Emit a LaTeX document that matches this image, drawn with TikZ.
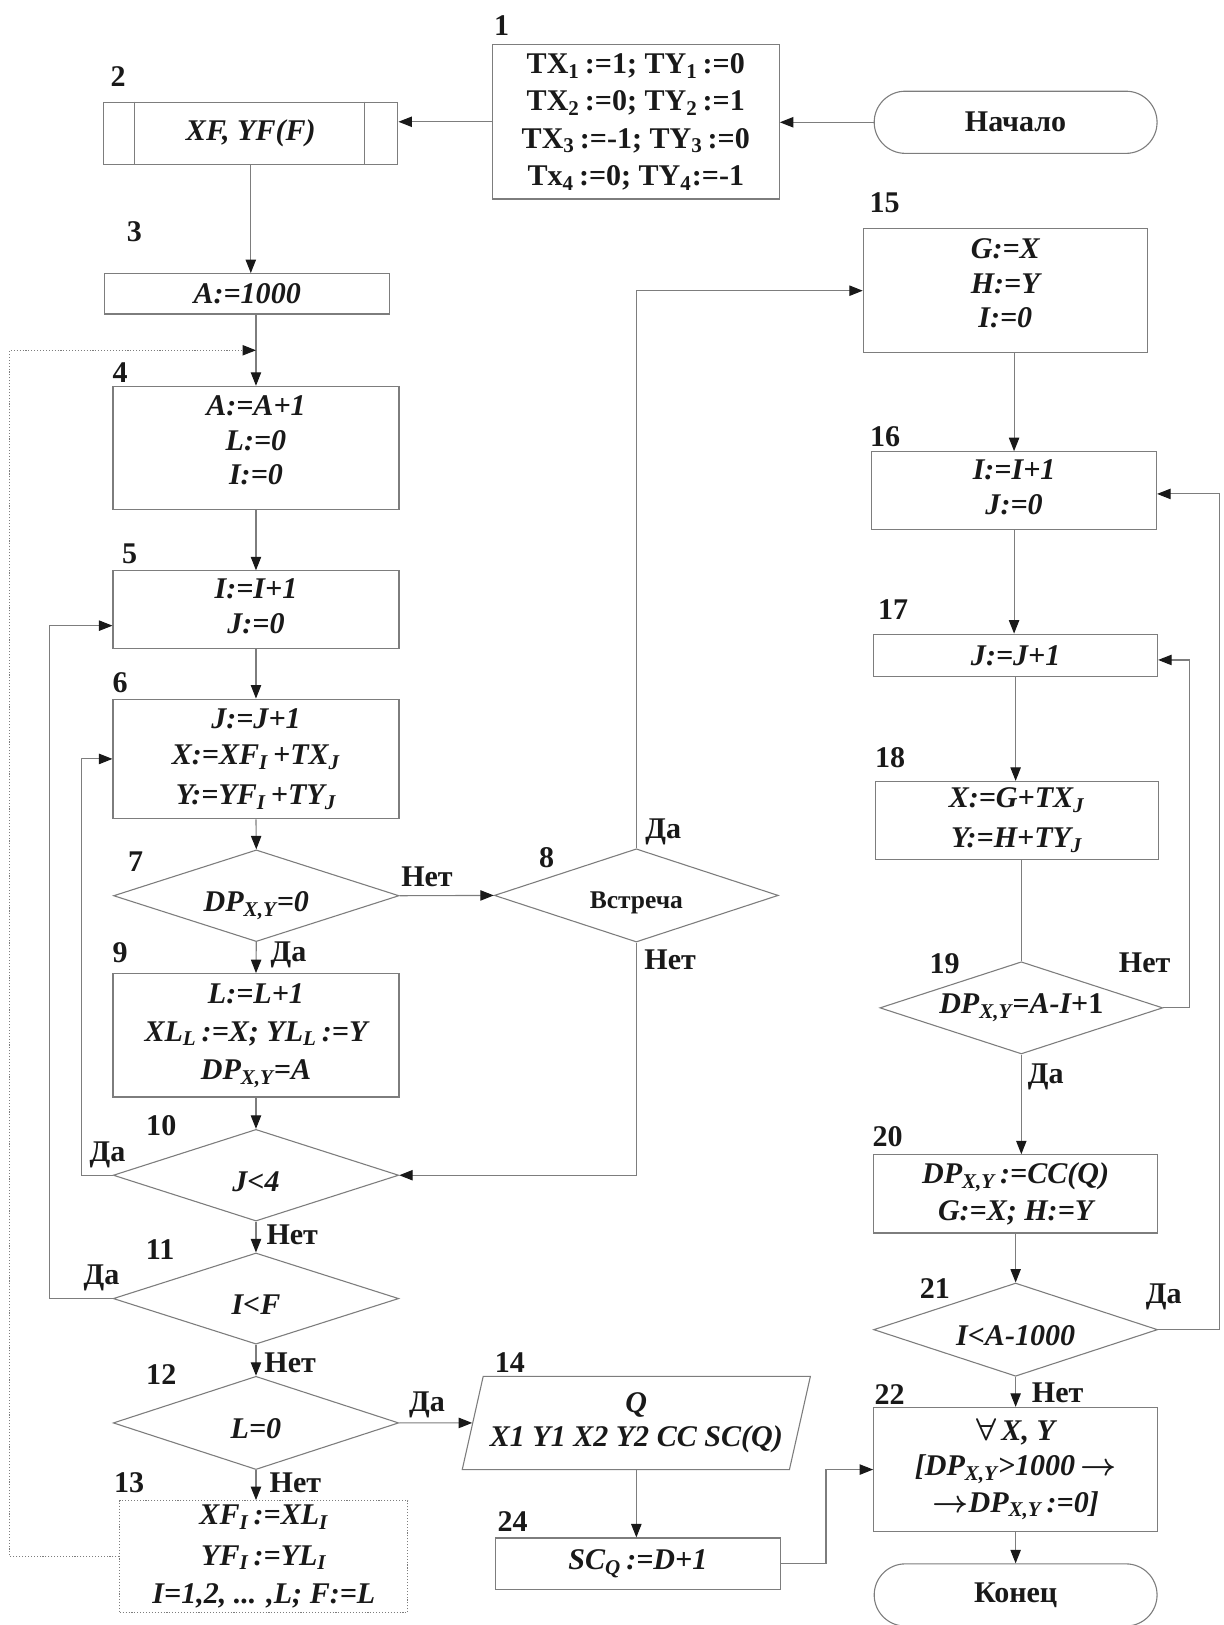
\documentclass[tikz,border=0pt]{standalone}
\usepackage{fontspec}
\setmainfont{Liberation Serif}
\usetikzlibrary{
  shapes.geometric,
  arrows.meta,
  calc
}
\definecolor{linecolor}{RGB}{125, 125, 125}
\definecolor{labelcolor}{RGB}{25, 25, 25}
\definecolor{tipcolor}{RGB}{25, 25, 25}
\newcommand{\dpxy}{DP\textsubscript{X,Y}}
\newcommand{\mainsize}{\fontsize{16.5}{19}\selectfont\bfseries\boldmath}
\tikzset{
blocktext/.style={
  align=center,
  font=\mainsize\itshape,
  text=labelcolor
},
procbox/.style={
  rectangle,
  draw=linecolor,
  line width=0.6pt,
  inner sep=0pt,
  blocktext
},
dottedbox/.style={
  procbox,
  densely dotted
},
decision/.style={
  diamond,
  aspect=3.1,
  draw=linecolor,
  line width=0.6pt,
  inner sep=0pt,
  minimum width=5.5cm,
  minimum height=1.78cm,
  blocktext
},
lowtext/.style={
  text height=17.5pt,
  text depth=0pt
},
terminal/.style={
  rectangle,
  rounded corners=0.6cm,
  draw=linecolor,
  line width=0.6pt,
  minimum width=5.46cm,
  minimum height=1.2cm,
  font=\mainsize,
  text=labelcolor
},
iobox/.style={
  trapezium,
  trapezium left angle=71,
  trapezium right angle=109,
  trapezium stretches body,
  draw=linecolor,
  line width=0.6pt,
  inner sep=0pt,
  blocktext
},
numlabel/.style={
  font=\mainsize,
  text=labelcolor,
  inner sep=0pt
},
answer/.style={
  numlabel
},
connector/.style={
  line width=0.6pt,
  draw=linecolor
},
arrow/.style={
  connector,
  -{Triangle[length=2.6mm,width=2mm,color=tipcolor]}
},
dottedarrow/.style={
  arrow,
  densely dotted
}
}

\begin{document}
\begin{tikzpicture}[x=0.02cm, y=-0.02cm]
\useasboundingbox (0, 0) rectangle (1181, 1568);

% ============================================================================
% НАЧАЛО И ИСХОДНЫЕ ДАННЫЕ
% ============================================================================
\node[terminal] (start) at (980, 118) {Начало};
\node[procbox, font=\mainsize\upshape, minimum width=5.54cm, minimum height=2.98cm] (b1) at (613.5, 117.5) {%
  TX\textsubscript{1}\,:=1; TY\textsubscript{1}\,:=0\\[1.5pt]
  TX\textsubscript{2}\,:=0; TY\textsubscript{2}\,:=1\\[1.5pt]
  TX\textsubscript{3}\,:=-1; TY\textsubscript{3}\,:=0\\[1.5pt]
  Tx\textsubscript{4}\,:=0; TY\textsubscript{4}:=-1};
\node[procbox, minimum width=5.68cm, minimum height=1.2cm] (b2) at (242, 128.5) {XF, YF(F)};
\draw[connector] ([xshift=0.6cm]b2.north west) -- ([xshift=0.6cm]b2.south west);
\draw[connector] ([xshift=-0.66cm]b2.north east) -- ([xshift=-0.66cm]b2.south east);
\node[procbox, minimum width=5.5cm, minimum height=0.78cm] (b3) at (238.5, 283.5) {A:=1000};

% ============================================================================
% ЛЕВАЯ КОЛОНКА
% ============================================================================
\node[procbox, minimum width=5.52cm, minimum height=2.37cm] (b4) at (247, 432) {A:=A+1\\L:=0\\I:=0\\[-11pt]\mbox{}};
\node[procbox, minimum width=5.52cm, minimum height=1.5cm] (b5) at (247, 588.3) {I:=I+1\\J:=0\\[-15pt]\mbox{}};
\node[procbox, minimum width=5.52cm, minimum height=2.31cm] (b6) at (247, 732.3) {J:=J+1\\[1pt]
  X:=XF\textsubscript{I}\,+TX\textsubscript{J}\\[3pt]
  Y:=YF\textsubscript{I}\,+TY\textsubscript{J}};
\node[decision, lowtext, minimum width=5.51cm, minimum height=1.77cm] (d7) at (247.3, 864.3) {\dpxy=0};
\node[decision, font=\fontsize{14}{16}\selectfont\bfseries\upshape, text height=14pt, text depth=0pt, minimum width=5.48cm, minimum height=1.8cm] (d8) at (614, 864) {Встреча};
\node[procbox, minimum width=5.52cm, minimum height=2.38cm] (b9) at (247, 999) {L:=L+1\\[2pt]
  XL\textsubscript{L}\,:=X; YL\textsubscript{L}\,:=Y\\[2pt]
  \dpxy=A};
\node[decision, lowtext, minimum width=5.51cm, minimum height=1.77cm] (d10) at (247, 1134) {J<4};
\node[decision, lowtext, minimum width=5.51cm, minimum height=1.76cm] (d11) at (247, 1253) {I<F};
\node[decision, lowtext, minimum width=5.51cm, minimum height=1.8cm] (d12) at (247, 1373) {L=0};
\node[dottedbox, minimum width=5.56cm, minimum height=2.16cm] (b13) at (254.6, 1502) {%
  XF\textsubscript{I}\,:=XL\textsubscript{I}\\[3pt]
  YF\textsubscript{I}\,:=YL\textsubscript{I}\\[2pt]
  I=1,2, ... ,L; F:=L};
\node[iobox, minimum width=6.72cm, minimum height=1.8cm] (p14) at (614, 1373) {Q\\X1 Y1 X2 Y2 CC SC(Q)};
\node[procbox, minimum width=5.5cm, minimum height=1.0cm] (b24) at (615.5, 1509) {SC\textsubscript{Q}\,:=D+1};

% ============================================================================
% ПРАВАЯ КОЛОНКА
% ============================================================================
\node[procbox, minimum width=5.48cm, minimum height=2.39cm] (b15) at (970, 280.5) {G:=X\\H:=Y\\I:=0\\[-11pt]\mbox{}};
\node[procbox, minimum width=5.5cm, minimum height=1.51cm] (b16) at (978.5, 473.6) {I:=I+1\\J:=0\\[-15pt]\mbox{}};
\node[procbox, minimum width=5.48cm, minimum height=0.82cm] (b17) at (980, 632.4) {J:=J+1};
\node[procbox, minimum width=5.46cm, minimum height=1.5cm] (b18) at (981, 791.5) {X:=G+TX\textsubscript{J}\\[3pt]
  Y:=H+TY\textsubscript{J}};
\node[decision, minimum width=5.46cm, minimum height=1.78cm] (d19) at (985.5, 972.5) {\dpxy=A-I{\upshape +1}};
\node[procbox, minimum width=5.48cm, minimum height=1.51cm] (b20) at (980, 1152) {\dpxy\,:=CC(Q)\\[1pt]
  G:=X; H:=Y};
\node[decision, lowtext, minimum width=5.48cm, minimum height=1.8cm] (d21) at (980, 1283) {I<A-1000};
\node[procbox, minimum width=5.48cm, minimum height=2.4cm] (b22) at (980, 1418) {$\forall$\,X, Y\\
  {[}\dpxy>1000\,$\rightarrow$\\[1pt]
  $\rightarrow$\dpxy\,:=0]};
\node[terminal] (stop) at (980, 1539) {Конец};

% ============================================================================
% НОМЕРА БЛОКОВ
% ============================================================================
\node[numlabel] (n1) at (484, 25) {1};
\node[numlabel] (n2) at (114, 74) {2};
\node[numlabel] (n3) at (129.6, 223.5) {3};
\node[numlabel] (n4) at (116, 360) {4};
\node[numlabel] (n5) at (125, 534.7) {5};
\node[numlabel] (n6) at (116, 659) {6};
\node[numlabel] (n7) at (130.8, 831.4) {7};
\node[numlabel] (n8) at (527.4, 828) {8};
\node[numlabel] (n9) at (115.8, 919.7) {9};
\node[numlabel] (n10) at (155.6, 1086.5) {10};
\node[numlabel] (n11) at (154.5, 1206) {11};
\node[numlabel] (n12) at (155.6, 1326.7) {12};
\node[numlabel] (n13) at (124.7, 1430.6) {13};
\node[numlabel] (n14) at (492, 1315) {14};
\node[numlabel] (n24) at (494.6, 1468.6) {24};
\node[numlabel] (n15) at (853.5, 196) {15};
\node[numlabel] (n16) at (854, 421.8) {16};
\node[numlabel] (n17) at (861.7, 588.6) {17};
\node[numlabel] (n18) at (859, 731.5) {18};
\node[numlabel] (n19) at (911.5, 930) {19};
\node[numlabel] (n20) at (856.5, 1096.8) {20};
\node[numlabel] (n21) at (902, 1243) {21};
\node[numlabel] (n22) at (858.5, 1346) {22};

% ============================================================================
% СВЯЗИ
% ============================================================================
\draw[arrow] (start.west) -- (start.west -| b1.east);
\draw[arrow] (b1.west) -- (b1.west -| b2.east);
\draw[arrow] (b2.south) -- (b2.south |- b3.north);
\draw[arrow] (b4.north |- b3.south) -- (b4.north);
\draw[arrow] (b4.south) -- (b5.north);
\draw[arrow] (b5.south) -- (b6.north);
\draw[arrow] (b6.south) -- (d7.north);
\draw[arrow] (d7.east) -- (d8.west);
\draw[arrow] (d7.south) -- (b9.north);
\draw[arrow] (b9.south) -- (d10.north);
\draw[arrow] (d10.south) -- (d11.north);
\draw[arrow] (d11.south) -- (d12.north);
\draw[arrow] (d12.south) -- (d12.south |- b13.north);
\draw[arrow] (d12.east) -- (p14);
\draw[arrow] (p14.south) -- (p14.south |- b24.north);

% Возвраты слева
\coordinate (c4) at (9.5, 338);
\coordinate (c5) at (47.7, 603.7);
\coordinate (c6) at (79, 732);
\draw[dottedarrow] (b13.west) -| (c4) -- (c4 -| b4.north);
\draw[arrow] (d11.west) -| (c5) -- (c5 -| b5.west);
\draw[arrow] (d10.west) -| (c6) |- (b6.west);
\draw[arrow] (d8.south) |- (d10.east);
\draw[arrow] (d8.north) |- (b15.west);

% Правая колонка
\draw[arrow] (b16.north |- b15.south) -- (b16.north);
\draw[arrow] (b16.south) -- (b16.south |- b17.north);
\draw[arrow] (b17.south) -- (b17.south |- b18.north);
\draw[connector] (d19.north |- b18.south) -- (d19.north);
\draw[arrow] (d19.south) -- (d19.south |- b20.north);
\draw[arrow] (b20.south) -- (b20.south |- d21.north);
\draw[arrow] (d21.south) -- (b22.north);
\draw[arrow] (b22.south) -- (stop.north);
\coordinate (c17) at (1148, 636.8);
\coordinate (c16) at (1177, 476.6);
\coordinate (c22) at (797, 1418);
\draw[arrow] (d19.east) -| (c17) -- (c17 -| b17.east);
\draw[arrow] (d21.east) -| (c16) -- (c16 -| b16.east);
\draw[arrow] (b24.east) -| (c22) |- (b22.west);

% ============================================================================
% ОТВЕТЫ ДА / НЕТ
% ============================================================================
\node[answer] (a7r) at (412, 846) {Нет};
\node[answer] (a7d) at (278.4, 921.5) {Да};
\node[answer] (a8u) at (640, 802.5) {Да};
\node[answer] (a8d) at (646.6, 926) {Нет};
\node[answer] (a10l) at (103.7, 1114.5) {Да};
\node[answer] (a10d) at (282, 1191.7) {Нет};
\node[answer] (a11l) at (98, 1233) {Да};
\node[answer] (a11d) at (280, 1315) {Нет};
\node[answer] (a12r) at (412, 1356) {Да};
\node[answer] (a12d) at (285, 1431) {Нет};
\node[answer] (a19r) at (1104.5, 929) {Нет};
\node[answer] (a19d) at (1009, 1039) {Да};
\node[answer] (a21r) at (1123, 1251) {Да};
\node[answer] (a21d) at (1020.6, 1344) {Нет};

\end{tikzpicture}
\end{document}
